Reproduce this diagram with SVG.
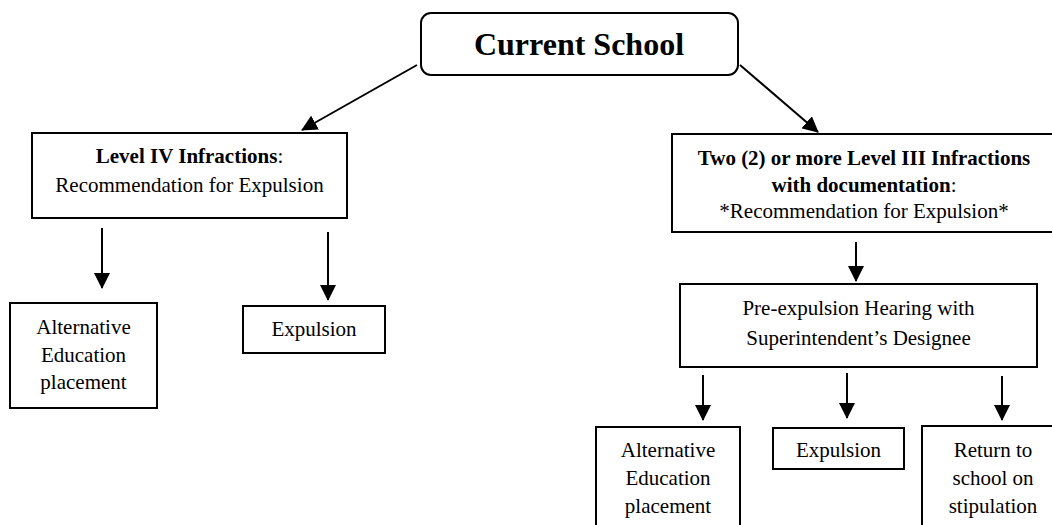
<svg xmlns="http://www.w3.org/2000/svg" width="1052" height="525" viewBox="0 0 1052 525">
<style>
.box{fill:#fff;stroke:#000;stroke-width:2}
.t{font-family:'Liberation Serif','Times New Roman','DejaVu Serif',serif;font-size:21px;fill:#000;text-anchor:middle}
.b{font-weight:bold}
.title{font-size:32px;font-weight:bold}
.c{stroke:#000;stroke-width:2;fill:none;marker-end:url(#ah)}
</style>
<defs>
<marker id="ah" markerUnits="userSpaceOnUse" markerWidth="16" markerHeight="16" refX="15" refY="8" orient="auto">
<path d="M0,0 L16,8 L0,16 z" fill="#000"/>
</marker>
</defs>
<rect width="1052" height="525" fill="#fff"/>
<g id="connectors">
<line class="c" x1="417" y1="65" x2="302" y2="130"/>
<line class="c" x1="740" y1="65" x2="818" y2="132"/>
<line class="c" x1="102" y1="228" x2="102" y2="288"/>
<line class="c" x1="328" y1="232" x2="328" y2="300"/>
<line class="c" x1="856" y1="242" x2="856" y2="281"/>
<line class="c" x1="703" y1="375" x2="703" y2="420"/>
<line class="c" x1="847" y1="373" x2="847" y2="418"/>
<line class="c" x1="1002" y1="376" x2="1002" y2="420"/>
</g>
<g id="current-school">
<rect class="box" x="421" y="13" width="317" height="62" rx="10"/>
<text class="t title" x="579" y="55" font-family="Liberation Serif">Current School</text>
</g>
<g id="level-iv">
<rect class="box" x="32" y="133" width="315" height="85"/>
<text class="t" x="189.5" y="163"><tspan class="b">Level IV Infractions</tspan>:</text>
<text class="t" x="189.5" y="192">Recommendation for Expulsion</text>
</g>
<g id="level-iii">
<rect class="box" x="672" y="134" width="384" height="98"/>
<text class="t" x="864" y="165"><tspan class="b">Two (2) or more Level III Infractions</tspan></text>
<text class="t" x="864" y="192"><tspan class="b">with documentation</tspan>:</text>
<text class="t" x="864" y="218">*Recommendation for Expulsion*</text>
</g>
<g id="alt-ed-left">
<rect class="box" x="10" y="303" width="147" height="105"/>
<text class="t" x="83.5" y="334">Alternative</text>
<text class="t" x="83.5" y="362">Education</text>
<text class="t" x="83.5" y="389">placement</text>
</g>
<g id="expulsion-left">
<rect class="box" x="243" y="306" width="142" height="47"/>
<text class="t" x="314" y="336">Expulsion</text>
</g>
<g id="pre-expulsion">
<rect class="box" x="680" y="284" width="357" height="83"/>
<text class="t" x="858.5" y="315">Pre-expulsion Hearing with</text>
<text class="t" x="858.5" y="345">Superintendent’s Designee</text>
</g>
<g id="alt-ed-right">
<rect class="box" x="596" y="427" width="144" height="110"/>
<text class="t" x="668" y="457">Alternative</text>
<text class="t" x="668" y="485">Education</text>
<text class="t" x="668" y="513">placement</text>
</g>
<g id="expulsion-right">
<rect class="box" x="773" y="428" width="131" height="41"/>
<text class="t" x="838.5" y="457">Expulsion</text>
</g>
<g id="return">
<rect class="box" x="922" y="426" width="142" height="110"/>
<text class="t" x="993" y="457">Return to</text>
<text class="t" x="993" y="485">school on</text>
<text class="t" x="993" y="513">stipulation</text>
</g>
</svg>
